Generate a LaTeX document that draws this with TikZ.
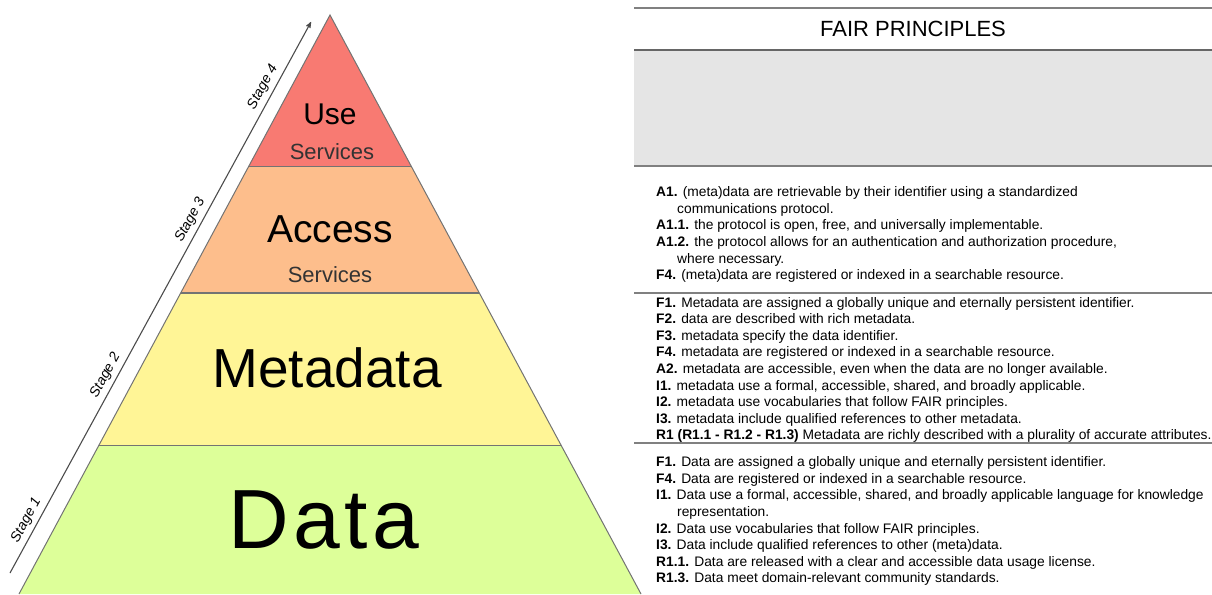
\documentclass[tikz,border=0pt]{standalone}
\usepackage{fontspec}
\setmainfont{Liberation Sans}
\usepackage{tikz}
\usetikzlibrary{arrows,calc}
\definecolor{usecol}{RGB}{248,122,114}
\definecolor{accesscol}{RGB}{253,190,140}
\definecolor{metacol}{RGB}{255,245,150}
\definecolor{datacol}{RGB}{221,255,153}
\definecolor{panelgray}{RGB}{229,229,229}

\begin{document}
\begin{tikzpicture}[x=1pt,y=-1pt,>=stealth',auto]
		\tikzstyle{edge}=[draw=black!55, line width=1pt]
		\tikzstyle{rule}=[draw=black!50, line width=2pt]
		\tikzstyle{big}=[anchor=base, inner sep=0pt]
		\tikzstyle{sub}=[anchor=base, inner sep=0pt, text=black!80, font=\fontsize{22}{26}\selectfont]
		\tikzstyle{stage}=[sloped, above=4pt, inner sep=0pt, font=\itshape\fontsize{14}{16}\selectfont]
		\tikzstyle{block}=[anchor=base west, inner sep=0pt, font=\fontsize{13.8}{16.6}\selectfont]

		\useasboundingbox (0,0) rectangle (1212,594);

		\coordinate (apex) at (330,15);
		\coordinate (bl) at (19,594);
		\coordinate (br) at (641,594);
		\coordinate (ul) at ($(apex)!0.2625!(bl)$);
		\coordinate (ur) at ($(apex)!0.2625!(br)$);
		\coordinate (al) at ($(apex)!0.4801!(bl)$);
		\coordinate (ar) at ($(apex)!0.4801!(br)$);
		\coordinate (ml) at ($(apex)!0.7427!(bl)$);
		\coordinate (mr) at ($(apex)!0.7427!(br)$);

		\fill[usecol] (apex) -- (ul) -- (ur) -- cycle;
		\fill[accesscol] (ul) -- (al) -- (ar) -- (ur) -- cycle;
		\fill[metacol] (al) -- (ml) -- (mr) -- (ar) -- cycle;
		\fill[datacol] (ml) -- (bl) -- (br) -- (mr) -- cycle;
		\draw[edge] (bl) -- (apex) -- (br);
		\draw[edge] (ul) -- (ur);
		\draw[edge, line width=2pt] (al) -- (ar);
		\draw[edge] (ml) -- (mr);

		\node [big, font=\fontsize{30}{36}\selectfont] (use) at (330,124) {Use};
		\node [sub] (usesrv) at (332,159) {Services};
		\node [big, font=\fontsize{39}{46}\selectfont] (access) at (330,242) {Access};
		\node [sub] (accsrv) at (330,282) {Services};
		\node [big, font=\fontsize{55}{64}\selectfont] (meta) at (327,387) {Metadata};
		\node [big, font=\fontsize{84}{96}\selectfont\addfontfeature{LetterSpace=5}] (data) at (324,548) {Data};

		\coordinate (s0) at (10,573);
		\coordinate (s1) at (311,22);
		\draw[->, draw=black!70, line width=1.1pt] (s0) --
			node[stage, pos=0.086] (st1) {Stage 1}
			node[stage, pos=0.349] (st2) {Stage 2}
			node[stage, pos=0.631] (st3) {Stage 3}
			node[stage, pos=0.872] (st4) {Stage 4} (s1);

		\fill[panelgray] (634,50) rectangle (1212,166);
		\draw[rule] (634,8) -- (1212,8);
		\draw[rule, line width=2.5pt, draw=black!60] (634,50) -- (1212,50);
		\draw[rule] (634,166) -- (1212,166);
		\draw[rule] (634,293) -- (1212,293);
		\draw[rule] (634,443) -- (1212,443);

		\node [anchor=base, inner sep=0pt, font=\fontsize{22}{26}\selectfont] (fair) at (913,37) {FAIR PRINCIPLES};

		\node [block] (accessp) at (656,196.7) {\parbox[t]{600pt}{%
			\textbf{A1.} (meta)data are retrievable by their identifier using a standardized\\
			\hspace*{21pt}communications protocol.\\
			\textbf{A1.1.} the protocol is open, free, and universally implementable.\\
			\textbf{A1.2.} the protocol allows for an authentication and authorization procedure,\\
			\hspace*{21pt}where necessary.\\
			\textbf{F4.} (meta)data are registered or indexed in a searchable resource.}};
		\node [block] (metap) at (656,307) {\parbox[t]{600pt}{%
			\textbf{F1.} Metadata are assigned a globally unique and eternally persistent identifier.\\
			\textbf{F2.} data are described with rich metadata.\\
			\textbf{F3.} metadata specify the data identifier.\\
			\textbf{F4.} metadata are registered or indexed in a searchable resource.\\
			\textbf{A2.} metadata are accessible, even when the data are no longer available.\\
			\textbf{I1.} metadata use a formal, accessible, shared, and broadly applicable.\\
			\textbf{I2.} metadata use vocabularies that follow FAIR principles.\\
			\textbf{I3.} metadata include qualified references to other metadata.\\
			\textbf{R1 (R1.1 - R1.2 - R1.3)} Metadata are richly described with a plurality of accurate attributes.}};
		\node [block] (datap) at (656,466.7) {\parbox[t]{600pt}{%
			\textbf{F1.} Data are assigned a globally unique and eternally persistent identifier.\\
			\textbf{F4.} Data are registered or indexed in a searchable resource.\\
			\textbf{I1.} Data use a formal, accessible, shared, and broadly applicable language for knowledge\\
			\hspace*{21pt}representation.\\
			\textbf{I2.} Data use vocabularies that follow FAIR principles.\\
			\textbf{I3.} Data include qualified references to other (meta)data.\\
			\textbf{R1.1.} Data are released with a clear and accessible data usage license.\\
			\textbf{R1.3.} Data meet domain-relevant community standards.}};
	\end{tikzpicture}
\end{document}
